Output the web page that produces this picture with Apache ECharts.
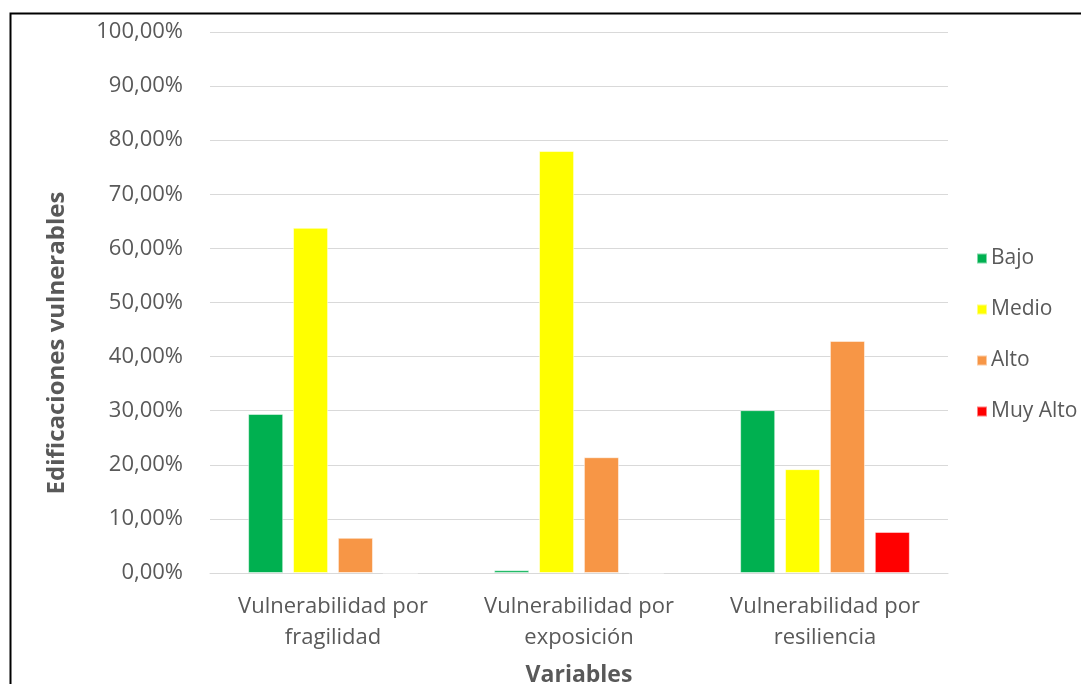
<!DOCTYPE html>
<html>
<head>
<meta charset="utf-8">
<script src="https://cdn.jsdelivr.net/npm/echarts@6/dist/echarts.min.js"></script>
<style>
  html, body { margin: 0; padding: 0; background: #fff; }
  #chart { width: 1081px; height: 684px; }
</style>
</head>
<body>
<div id="chart"></div>
<script>
// Categories and percentage values per vulnerability level
const categories = ['Vulnerabilidad por\nfragilidad', 'Vulnerabilidad por\nexposición', 'Vulnerabilidad por\nresiliencia'];
const bajo = [29.4, 0.5, 30.1];
const medio = [63.8, 78.0, 19.2];
const alto = [6.5, 21.4, 42.9];
const muyAlto = [0, 0, 7.6];
const seriesNames = ['Bajo', 'Medio', 'Alto', 'Muy Alto'];
const seriesColors = ['#00B050', '#FFFF00', '#F79646', '#FF0000'];
const seriesData = [bajo, medio, alto, muyAlto];

const FONT = '"Open Sans", sans-serif';
const TXT = '#595959';

const chart = echarts.init(document.getElementById('chart'), null, { renderer: 'canvas' });

const option = {
  animation: false,
  backgroundColor: '#fff',
  textStyle: { fontFamily: FONT },
  grid: { left: 210, right: 133, top: 32, bottom: 111, containLabel: false },
  legend: {
    orient: 'vertical',
    left: 971,
    top: 243,
    itemWidth: 10,
    itemHeight: 10,
    itemGap: 30,
    icon: 'rect',
    textStyle: { color: TXT, fontSize: 21, fontFamily: FONT, padding: [0, 0, 0, -1] },
    data: seriesNames
  },
  xAxis: {
    type: 'category',
    data: categories,
    axisLine: { show: true, lineStyle: { color: '#d9d9d9', width: 1 } },
    axisTick: { show: false },
    axisLabel: {
      color: TXT, fontSize: 22, fontFamily: FONT,
      lineHeight: 31, margin: 18, interval: 0
    }
  },
  yAxis: {
    type: 'value',
    min: 0,
    max: 100,
    interval: 10,
    axisLine: { show: false },
    axisTick: { show: false },
    splitLine: { lineStyle: { color: '#d9d9d9', width: 1 } },
    axisLabel: {
      color: TXT, fontSize: 22, fontFamily: FONT, margin: 27,
      formatter: v => v.toFixed(2).replace('.', ',') + '%'
    }
  },
  series: seriesNames.map((name, i) => ({
    name: name,
    type: 'bar',
    data: seriesData[i],
    barGap: '28%',
    barCategoryGap: '31%',
    itemStyle: {
      color: seriesColors[i],
      borderColor: 'rgba(255,255,255,0.5)',
      borderWidth: 1
    }
  })),
  graphic: [
    {
      type: 'rect',
      shape: { x: 10.5, y: 13.5, width: 1100, height: 700 },
      style: { fill: 'none', stroke: '#000', lineWidth: 2 },
      silent: true
    },
    {
      type: 'text',
      x: 57,
      y: 343,
      rotation: Math.PI / 2,
      style: {
        text: 'Edificaciones vulnerables',
        fill: TXT,
        font: 'bold 24px ' + FONT,
        textAlign: 'center',
        textVerticalAlign: 'middle'
      }
    },
    {
      type: 'text',
      x: 579,
      y: 675,
      style: {
        text: 'Variables',
        fill: TXT,
        font: 'bold 23px ' + FONT,
        textAlign: 'center',
        textVerticalAlign: 'middle'
      }
    }
  ]
};

chart.setOption(option);
</script>
</body>
</html>
